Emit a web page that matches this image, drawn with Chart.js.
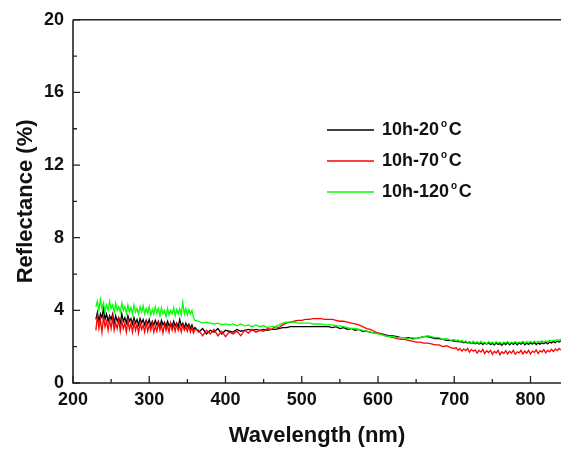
<!DOCTYPE html>
<html>
<head>
<meta charset="utf-8">
<script src="https://cdn.jsdelivr.net/npm/chart.js@4"></script>
<style>
  html, body { margin: 0; padding: 0; background: #fff; }
  #wrap { width: 561px; height: 454px; }
</style>
</head>
<body>
<div id="wrap"><canvas id="grafico" width="561" height="454"></canvas></div>
<script>
// =============== DADOS ===============
// comprimentos de onda (nm): passo 2 ate 360, passo 5 ate 700, passo 2.5 ate 840
const wavelengths = [
  230,232,234,236,238,240,242,244,246,248,
  250,252,254,256,258,260,262,264,266,268,
  270,272,274,276,278,280,282,284,286,288,
  290,292,294,296,298,300,302,304,306,308,
  310,312,314,316,318,320,322,324,326,328,
  330,332,334,336,338,340,342,344,346,348,
  350,352,354,356,358,360,
  365,370,375,380,385,390,395,400,405,410,
  415,420,425,430,435,440,445,450,455,460,
  465,470,475,480,485,490,495,500,505,510,
  515,520,525,530,535,540,545,550,555,560,
  565,570,575,580,585,590,595,600,605,610,
  615,620,625,630,635,640,645,650,655,660,
  665,670,675,680,685,690,695,700,
  702.5,705,707.5,710,712.5,715,717.5,720,722.5,725,
  727.5,730,732.5,735,737.5,740,742.5,745,747.5,750,
  752.5,755,757.5,760,762.5,765,767.5,770,772.5,775,
  777.5,780,782.5,785,787.5,790,792.5,795,797.5,800,
  802.5,805,807.5,810,812.5,815,817.5,820,822.5,825,
  827.5,830,832.5,835,837.5,840
];

const refl20 = [
  3.5,3.9,3.4,3.8,3.6,4.1,3.5,3.8,3.4,3.7,
  3.5,3.8,3.3,3.7,3.4,3.6,3.3,3.8,3.4,3.6,
  3.3,3.7,3.4,3.55,3.25,3.6,3.3,3.5,3.2,3.55,
  3.3,3.5,3.2,3.45,3.25,3.5,3.15,3.4,3.2,3.45,
  3.2,3.4,3.1,3.45,3.2,3.35,3.1,3.4,3.15,3.3,
  3.1,3.4,3.15,3.3,3.1,3.5,3.15,3.3,3.05,3.3,
  3.1,3.25,3.0,3.2,2.95,3.05,
  2.8,3.0,2.7,2.9,2.8,3.0,2.7,2.9,2.85,2.8,
  2.95,2.85,2.9,2.95,2.9,2.95,2.9,2.95,2.9,2.95,
  2.95,3.0,3.05,3.05,3.1,3.1,3.1,3.1,3.1,3.1,
  3.1,3.1,3.1,3.1,3.1,3.05,3.1,3.0,3.05,2.95,
  3.0,2.9,2.95,2.85,2.85,2.8,2.75,2.75,2.7,2.65,
  2.6,2.6,2.55,2.5,2.5,2.5,2.45,2.45,2.5,2.55,
  2.55,2.5,2.45,2.45,2.4,2.35,2.35,2.3,
  2.28,2.32,2.25,2.28,2.22,2.26,2.2,2.24,2.18,2.22,
  2.16,2.22,2.15,2.2,2.12,2.2,2.14,2.22,2.12,2.18,
  2.1,2.2,2.12,2.18,2.08,2.2,2.12,2.24,2.1,2.2,
  2.12,2.22,2.1,2.2,2.14,2.24,2.1,2.2,2.12,2.22,
  2.14,2.24,2.12,2.2,2.14,2.22,2.16,2.24,2.15,2.25,
  2.2,2.28,2.22,2.3,2.26,2.32
];

const refl70 = [
  2.9,3.7,3.0,3.5,2.8,3.6,3.1,3.4,2.9,3.5,
  3.0,3.6,2.9,3.3,3.0,3.5,2.85,3.4,3.0,3.3,
  2.8,3.45,2.95,3.3,2.8,3.35,2.9,3.25,2.75,3.3,
  2.95,3.2,2.8,3.35,2.85,3.2,2.9,3.3,2.8,3.15,
  2.85,3.3,2.9,3.2,2.75,3.25,2.9,3.15,2.8,3.3,
  2.9,3.2,2.85,3.25,2.9,3.15,2.8,3.2,2.9,3.1,
  2.85,3.15,2.8,3.05,2.75,2.95,
  2.9,2.6,2.9,2.7,2.95,2.6,2.85,2.55,2.8,2.7,
  2.85,2.6,2.9,2.75,2.95,2.8,2.9,2.85,3.0,2.95,
  3.1,3.05,3.2,3.3,3.35,3.4,3.45,3.45,3.5,3.5,
  3.55,3.55,3.55,3.5,3.5,3.5,3.45,3.4,3.4,3.35,
  3.3,3.25,3.2,3.1,3.0,2.95,2.85,2.75,2.7,2.6,
  2.55,2.5,2.45,2.4,2.4,2.35,2.3,2.25,2.25,2.2,
  2.2,2.15,2.1,2.1,2.0,2.05,1.95,1.9,
  1.95,1.8,1.9,1.75,1.88,1.78,1.9,1.7,1.85,1.75,
  1.82,1.65,1.8,1.7,1.85,1.62,1.78,1.68,1.8,1.58,
  1.75,1.65,1.8,1.55,1.72,1.62,1.78,1.6,1.75,1.65,
  1.8,1.58,1.72,1.66,1.8,1.6,1.76,1.64,1.8,1.6,
  1.75,1.68,1.82,1.62,1.78,1.7,1.84,1.66,1.8,1.72,
  1.86,1.74,1.88,1.78,1.9,1.82
];

const refl120 = [
  4.2,4.5,4.0,4.6,4.1,4.4,3.9,4.3,4.0,4.5,
  4.1,4.3,3.9,4.4,4.0,4.2,3.9,4.4,4.0,4.2,
  3.85,4.3,3.9,4.15,3.8,4.3,3.9,4.1,3.8,4.2,
  3.9,4.25,3.8,4.1,3.85,4.2,3.75,4.05,3.8,4.2,
  3.85,4.1,3.7,4.15,3.8,4.0,3.65,4.1,3.75,4.0,
  3.8,4.15,3.7,4.05,3.8,4.1,3.75,4.45,3.8,4.1,
  3.75,4.05,3.8,4.0,3.6,3.45,
  3.4,3.3,3.35,3.3,3.25,3.3,3.2,3.25,3.2,3.25,
  3.15,3.25,3.15,3.2,3.1,3.2,3.1,3.15,3.05,3.1,
  3.1,3.2,3.3,3.35,3.35,3.35,3.3,3.3,3.3,3.3,
  3.25,3.25,3.25,3.2,3.2,3.2,3.15,3.15,3.1,3.05,
  3.0,3.0,2.95,2.9,2.85,2.8,2.75,2.7,2.65,2.6,
  2.55,2.55,2.5,2.5,2.5,2.45,2.5,2.45,2.5,2.55,
  2.6,2.55,2.5,2.5,2.4,2.45,2.35,2.4,
  2.32,2.38,2.28,2.35,2.25,2.32,2.22,2.3,2.2,2.3,
  2.2,2.28,2.18,2.3,2.2,2.26,2.15,2.28,2.2,2.25,
  2.16,2.28,2.2,2.25,2.15,2.26,2.2,2.28,2.18,2.26,
  2.2,2.28,2.2,2.26,2.22,2.3,2.2,2.28,2.22,2.28,
  2.22,2.3,2.24,2.3,2.25,2.32,2.26,2.32,2.28,2.34,
  2.3,2.36,2.32,2.38,2.36,2.42
];

const seriesLabels = ['10h-20', '10h-70', '10h-120'];
const seriesColors = ['#000000', '#ff0000', '#00ff00'];
const xTicks = [200, 300, 400, 500, 600, 700, 800];
const xMinor = [250, 350, 450, 550, 650, 750];
const yTicks = [0, 4, 8, 12, 16, 20];
const yMinor = [2, 6, 10, 14, 18];

const FONT = '"Liberation Sans", Arial, sans-serif';

function pontos(valores) {
  return wavelengths.map((w, i) => ({ x: w, y: valores[i] }));
}

// =============== MOLDURA, TICKS E LEGENDA ===============
const molduraPlugin = {
  id: 'moldura',
  afterDatasetsDraw(chart) {
    const ctx = chart.ctx;
    const area = chart.chartArea;
    const xs = chart.scales.x;
    const ys = chart.scales.y;
    ctx.save();
    ctx.strokeStyle = '#222';
    ctx.lineWidth = 1.6;
    ctx.beginPath();
    ctx.moveTo(area.left, area.top);
    ctx.lineTo(area.right, area.top);
    ctx.moveTo(area.left, area.top);
    ctx.lineTo(area.left, area.bottom);
    ctx.lineTo(area.right, area.bottom);
    ctx.stroke();

    ctx.lineWidth = 1.3;
    ctx.beginPath();
    xTicks.forEach(v => {
      const px = xs.getPixelForValue(v);
      ctx.moveTo(px, area.bottom);
      ctx.lineTo(px, area.bottom - 7);
    });
    xMinor.forEach(v => {
      const px = xs.getPixelForValue(v);
      ctx.moveTo(px, area.bottom);
      ctx.lineTo(px, area.bottom - 4);
    });
    yTicks.forEach(v => {
      const py = ys.getPixelForValue(v);
      ctx.moveTo(area.left, py);
      ctx.lineTo(area.left + 7, py);
    });
    yMinor.forEach(v => {
      const py = ys.getPixelForValue(v);
      ctx.moveTo(area.left, py);
      ctx.lineTo(area.left + 4, py);
    });
    ctx.stroke();

    // legenda
    const linhas = [130, 161, 192];
    seriesLabels.forEach((lab, i) => {
      const y = linhas[i];
      ctx.strokeStyle = seriesColors[i];
      ctx.lineWidth = 1.5;
      ctx.beginPath();
      ctx.moveTo(327, y);
      ctx.lineTo(374, y);
      ctx.stroke();

      ctx.fillStyle = '#111';
      ctx.textBaseline = 'middle';
      ctx.textAlign = 'left';
      ctx.font = 'bold 18px ' + FONT;
      ctx.fillText(lab, 382, y);
      let x = 382 + ctx.measureText(lab).width + 2;
      ctx.font = 'bold 10px ' + FONT;
      ctx.fillText('o', x, y - 6);
      x += ctx.measureText('o').width + 1.5;
      ctx.font = 'bold 18px ' + FONT;
      ctx.fillText('C', x, y);
    });
    ctx.restore();
  }
};

const ctx1 = document.getElementById('grafico').getContext('2d');
new Chart(ctx1, {
  type: 'line',
  data: {
    datasets: [
      { label: '10h-20°C', data: pontos(refl20), borderColor: seriesColors[0], order: 3 },
      { label: '10h-70°C', data: pontos(refl70), borderColor: seriesColors[1], order: 2 },
      { label: '10h-120°C', data: pontos(refl120), borderColor: seriesColors[2], order: 1 }
    ]
  },
  options: {
    responsive: false,
    animation: false,
    elements: {
      point: { radius: 0 },
      line: { borderWidth: 1.3, tension: 0 }
    },
    layout: { padding: { top: 19, right: 0, left: 0, bottom: 0 } },
    plugins: {
      legend: { display: false },
      tooltip: { enabled: false }
    },
    scales: {
      x: {
        type: 'linear',
        min: 200,
        max: 840,
        grid: { display: false, drawTicks: false },
        border: { display: false },
        afterFit(scale) { scale.height = 71; },
        afterBuildTicks(scale) { scale.ticks = xTicks.map(v => ({ value: v })); },
        ticks: {
          padding: 6,
          color: '#111',
          maxRotation: 0,
          font: { family: FONT, size: 18, weight: 'bold' }
        },
        title: {
          display: true,
          text: 'Wavelength (nm)',
          color: '#111',
          padding: { top: 0, bottom: 5 },
          font: { family: FONT, size: 22, weight: 'bold' }
        }
      },
      y: {
        min: 0,
        max: 20,
        grid: { display: false, drawTicks: false },
        border: { display: false },
        afterFit(scale) { scale.width = 73; },
        afterBuildTicks(scale) { scale.ticks = yTicks.map(v => ({ value: v })); },
        ticks: {
          padding: 9,
          color: '#111',
          font: { family: FONT, size: 18, weight: 'bold' }
        },
        title: {
          display: true,
          text: 'Reflectance (%)',
          color: '#111',
          padding: { top: 13, bottom: 0 },
          font: { family: FONT, size: 22, weight: 'bold' }
        }
      }
    }
  },
  plugins: [molduraPlugin]
});
</script>
</body>
</html>
